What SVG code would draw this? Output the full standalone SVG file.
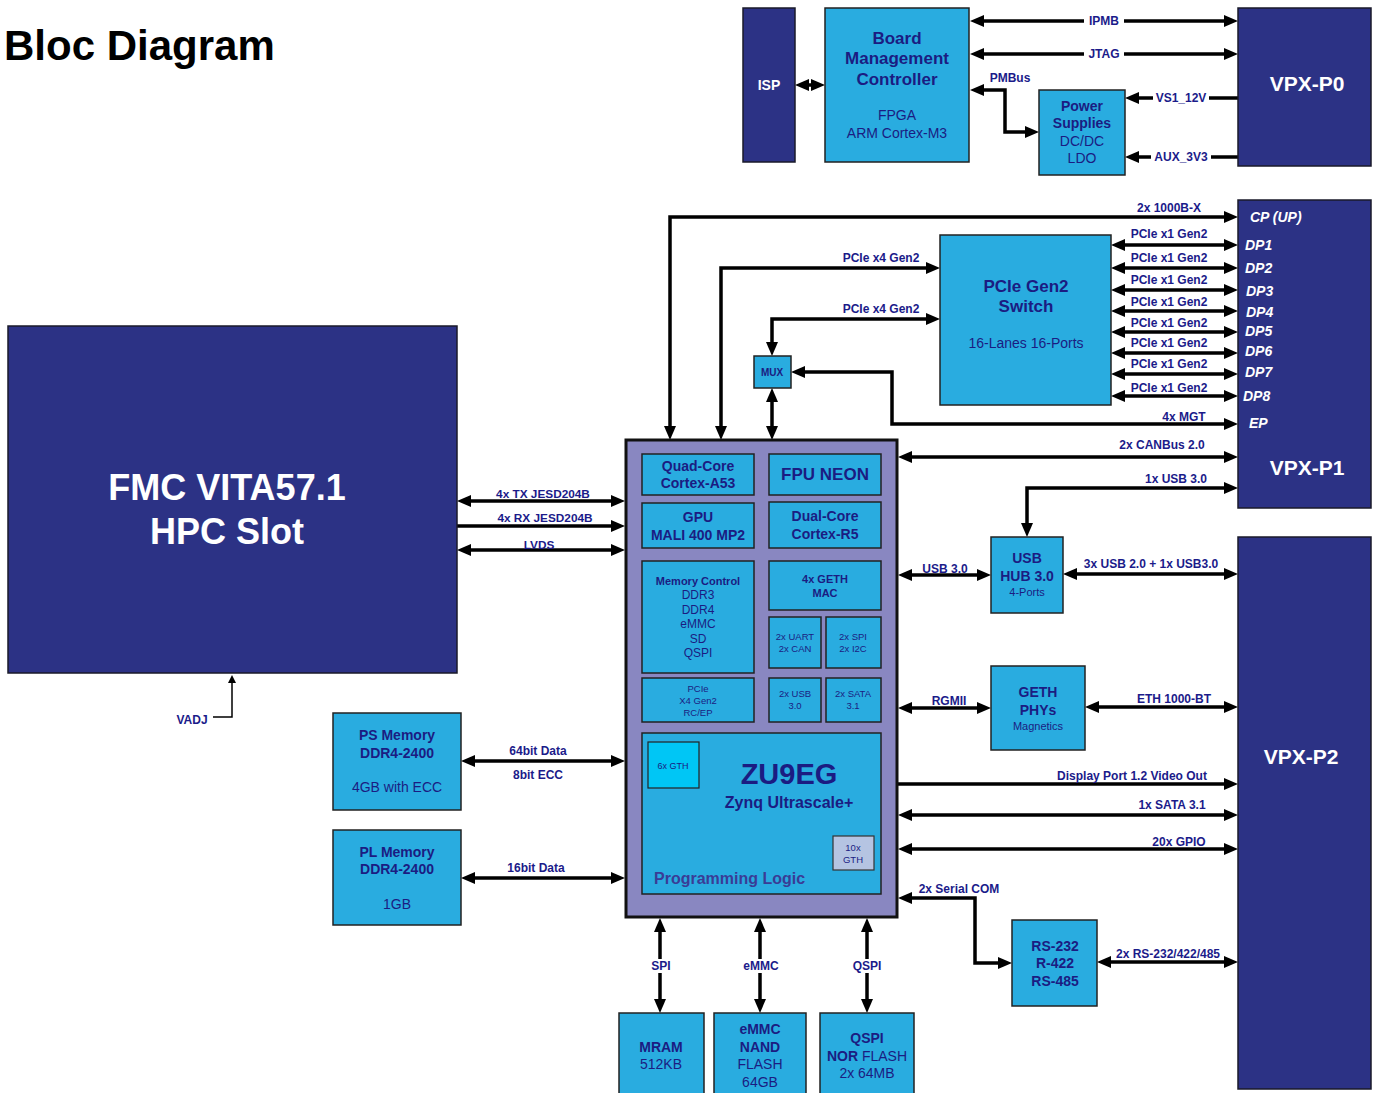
<svg xmlns="http://www.w3.org/2000/svg" width="1377" height="1093" viewBox="0 0 1377 1093">
<defs>
<style>
.dk{fill:#2C3285;stroke:#1a1a2a;stroke-width:1.5}
.lb{fill:#29ACE0;stroke:#222;stroke-width:1.5}
.zu{fill:#8987C1;stroke:#111;stroke-width:3}
.ln{stroke:#000;stroke-width:3.5;fill:none;marker-start:url(#ah);marker-end:url(#ah)}
.le{stroke:#000;stroke-width:3.5;fill:none;marker-end:url(#ah)}
text{font-family:"Liberation Sans",Arial,sans-serif;fill:#1B1C82}
.b{font-weight:bold}
.c{text-anchor:middle}
.lab{font-size:12px;font-weight:bold;text-anchor:middle;fill:#1B1B8A}
.w{fill:#fff}
.port{font-size:14px;font-weight:bold;font-style:italic;fill:#fff}
</style>
<marker id="ah" viewBox="0 0 14 12" markerWidth="14" markerHeight="12" refX="3" refY="6" orient="auto-start-reverse" markerUnits="userSpaceOnUse">
<path d="M0,0 L14,6 L0,12 z" fill="#000"/>
</marker>
<marker id="ahs" viewBox="0 0 8 8" markerWidth="8" markerHeight="8" refX="1" refY="4" orient="auto" markerUnits="userSpaceOnUse">
<path d="M0,0 L8,4 L0,8 z" fill="#000"/>
</marker>
</defs>
<rect width="1377" height="1093" fill="#fff"/>
<text x="4" y="60" style="font-size:42px;font-weight:bold;fill:#000">Bloc Diagram</text>

<g id="connectors">
<path class="ln" d="M806,85 L814,85"/>
<path class="ln" d="M981,21 L1227,21"/>
<path class="ln" d="M981,54 L1227,54"/>
<path class="ln" d="M981,90 L1005,90 L1005,132 L1028,132"/>
<path class="le" d="M1238,98 L1136,98"/>
<path class="le" d="M1238,157 L1136,157"/>
<path class="ln" d="M670,429 L670,217 L1227,217"/>
<path class="ln" d="M721,429 L721,268 L929,268"/>
<path class="ln" d="M929,319 L772,319 L772,345"/>
<path class="ln" d="M772,399 L772,429"/>
<path class="ln" d="M1227,424 L892,424 L892,372 L802,372"/>
<path class="ln" d="M1122,245 L1227,245"/>
<path class="ln" d="M1122,268 L1227,268"/>
<path class="ln" d="M1122,290 L1227,290"/>
<path class="ln" d="M1122,311 L1227,311"/>
<path class="ln" d="M1122,332 L1227,332"/>
<path class="ln" d="M1122,353 L1227,353"/>
<path class="ln" d="M1122,374 L1227,374"/>
<path class="ln" d="M1122,396 L1227,396"/>
<path class="ln" d="M468,501 L614,501"/>
<path class="le" d="M457,526 L614,526"/>
<path class="ln" d="M468,550 L614,550"/>
<path class="ln" d="M909,457 L1227,457"/>
<path class="ln" d="M1227,488 L1027,488 L1027,526"/>
<path class="ln" d="M909,575 L980,575"/>
<path class="ln" d="M1074,574 L1227,574"/>
<path class="ln" d="M909,708 L980,708"/>
<path class="ln" d="M1096,707 L1227,707"/>
<path class="le" d="M898,784 L1227,784"/>
<path class="ln" d="M909,815 L1227,815"/>
<path class="ln" d="M909,849 L1227,849"/>
<path class="ln" d="M909,898 L975,898 L975,963 L1001,963"/>
<path class="ln" d="M1108,962 L1227,962"/>
<path class="ln" d="M472,761 L614,761"/>
<path class="ln" d="M472,878 L614,878"/>
<path class="ln" d="M660,929 L660,1002"/>
<path class="ln" d="M760,929 L760,1002"/>
<path class="ln" d="M867,929 L867,1002"/>
<path d="M213,717 L232,717 L232,682" fill="none" stroke="#000" stroke-width="1.5" marker-end="url(#ahs)"/>

<rect x="1084" y="14" width="40" height="14" class="w"/>
<text class="lab" x="1104" y="25">IPMB</text>
<rect x="1084" y="47" width="40" height="14" class="w"/>
<text class="lab" x="1104" y="58">JTAG</text>
<text class="lab" x="1010" y="82">PMBus</text>
<rect x="1153" y="91" width="56" height="14" class="w"/>
<text class="lab" x="1181" y="102">VS1_12V</text>
<rect x="1151" y="150" width="60" height="14" class="w"/>
<text class="lab" x="1181" y="161">AUX_3V3</text>
<text class="lab" x="1169" y="212">2x 1000B-X</text>
<text class="lab" x="881" y="262">PCIe x4 Gen2</text>
<text class="lab" x="881" y="313">PCIe x4 Gen2</text>
<text class="lab" x="1169" y="238">PCIe x1 Gen2</text>
<text class="lab" x="1169" y="262">PCIe x1 Gen2</text>
<text class="lab" x="1169" y="284">PCIe x1 Gen2</text>
<text class="lab" x="1169" y="306">PCIe x1 Gen2</text>
<text class="lab" x="1169" y="327">PCIe x1 Gen2</text>
<text class="lab" x="1169" y="347">PCIe x1 Gen2</text>
<text class="lab" x="1169" y="368">PCIe x1 Gen2</text>
<text class="lab" x="1169" y="392">PCIe x1 Gen2</text>
<text class="lab" x="1184" y="421">4x MGT</text>
<text class="lab" x="1162" y="449">2x CANBus 2.0</text>
<text class="lab" x="1176" y="483">1x USB 3.0</text>
<text class="lab" x="945" y="573">USB 3.0</text>
<text class="lab" x="1151" y="568">3x USB 2.0 + 1x USB3.0</text>
<text class="lab" x="949" y="705">RGMII</text>
<text class="lab" x="1174" y="703">ETH 1000-BT</text>
<text class="lab" x="1132" y="780">Display Port 1.2 Video Out</text>
<text class="lab" x="1172" y="809">1x SATA 3.1</text>
<text class="lab" x="1179" y="846">20x GPIO</text>
<text class="lab" x="959" y="893">2x Serial COM</text>
<text class="lab" x="1168" y="958">2x RS-232/422/485</text>
<text class="lab" x="543" y="498" style="font-size:11.8px">4x TX JESD204B</text>
<text class="lab" x="545" y="522" style="font-size:11.8px">4x RX JESD204B</text>
<text class="lab" x="539" y="549" style="font-size:11.8px">LVDS</text>
<text class="lab" x="538" y="755">64bit Data</text>
<text class="lab" x="538" y="779">8bit ECC</text>
<text class="lab" x="536" y="872">16bit Data</text>
<rect x="646" y="959" width="30" height="14" class="w"/>
<text class="lab" x="661" y="970">SPI</text>
<rect x="740" y="959" width="42" height="14" class="w"/>
<text class="lab" x="761" y="970">eMMC</text>
<rect x="849" y="959" width="36" height="14" class="w"/>
<text class="lab" x="867" y="970">QSPI</text>
<text class="lab" x="192" y="724">VADJ</text>
</g>

<g id="isp">
<rect class="dk" x="743" y="8" width="52" height="154"/>
<text class="b c" x="769" y="90" style="font-size:14px;fill:#fff">ISP</text>
</g>
<g id="bmc">
<rect class="lb" x="825" y="8" width="144" height="154"/>
<text class="b c" x="897" y="44" style="font-size:17px">Board</text>
<text class="b c" x="897" y="64" style="font-size:17px">Management</text>
<text class="b c" x="897" y="85" style="font-size:17px">Controller</text>
<text class="c" x="897" y="120" style="font-size:14px">FPGA</text>
<text class="c" x="897" y="138" style="font-size:14px">ARM Cortex-M3</text>
</g>
<g id="power">
<rect class="lb" x="1039" y="90" width="86" height="85"/>
<text class="b c" x="1082" y="111" style="font-size:14px">Power</text>
<text class="b c" x="1082" y="128" style="font-size:14px">Supplies</text>
<text class="c" x="1082" y="146" style="font-size:14px">DC/DC</text>
<text class="c" x="1082" y="163" style="font-size:14px">LDO</text>
</g>
<g id="vpx-p0">
<rect class="dk" x="1238" y="8" width="133" height="158"/>
<text class="b c" x="1307" y="91" style="font-size:21px;fill:#fff">VPX-P0</text>
</g>
<g id="vpx-p1">
<rect class="dk" x="1238" y="200" width="133" height="308"/>
<text class="port" x="1250" y="222">CP (UP)</text>
<text class="port" x="1245" y="250">DP1</text>
<text class="port" x="1245" y="273">DP2</text>
<text class="port" x="1246" y="296">DP3</text>
<text class="port" x="1246" y="317">DP4</text>
<text class="port" x="1245" y="336">DP5</text>
<text class="port" x="1245" y="356">DP6</text>
<text class="port" x="1245" y="377">DP7</text>
<text class="port" x="1243" y="401">DP8</text>
<text class="port" x="1249" y="428">EP</text>
<text class="b c" x="1307" y="475" style="font-size:21px;fill:#fff">VPX-P1</text>
</g>
<g id="vpx-p2">
<rect class="dk" x="1238" y="537" width="133" height="552"/>
<text class="b c" x="1301" y="764" style="font-size:21px;fill:#fff">VPX-P2</text>
</g>
<g id="pcie-switch">
<rect class="lb" x="940" y="235" width="171" height="170"/>
<text class="b c" x="1026" y="292" style="font-size:17px">PCIe Gen2</text>
<text class="b c" x="1026" y="312" style="font-size:17px">Switch</text>
<text class="c" x="1026" y="348" style="font-size:14px">16-Lanes 16-Ports</text>
</g>
<g id="mux">
<rect class="lb" x="754" y="356" width="37" height="32"/>
<text class="b c" x="772" y="376" style="font-size:10px">MUX</text>
</g>
<g id="fmc">
<rect class="dk" x="8" y="326" width="449" height="347"/>
<text class="b c" x="227" y="500" style="font-size:36px;fill:#fff">FMC VITA57.1</text>
<text class="b c" x="227" y="544" style="font-size:36px;fill:#fff">HPC Slot</text>
</g>
<g id="zu9eg">
<rect class="zu" x="626" y="440" width="271" height="477"/>
<rect class="lb" x="642" y="454" width="112" height="41"/>
<text class="b c" x="698" y="471" style="font-size:14px">Quad-Core</text>
<text class="b c" x="698" y="488" style="font-size:14px">Cortex-A53</text>
<rect class="lb" x="769" y="454" width="112" height="41"/>
<text class="b c" x="825" y="480" style="font-size:17px">FPU NEON</text>
<rect class="lb" x="642" y="503" width="112" height="45"/>
<text class="b c" x="698" y="522" style="font-size:14px">GPU</text>
<text class="b c" x="698" y="540" style="font-size:14px">MALI 400 MP2</text>
<rect class="lb" x="769" y="502" width="112" height="46"/>
<text class="b c" x="825" y="521" style="font-size:14px">Dual-Core</text>
<text class="b c" x="825" y="539" style="font-size:14px">Cortex-R5</text>
<rect class="lb" x="642" y="561" width="112" height="112"/>
<text class="b c" x="698" y="585" style="font-size:11px">Memory Control</text>
<text class="c" x="698" y="599" style="font-size:12px">DDR3</text>
<text class="c" x="698" y="614" style="font-size:12px">DDR4</text>
<text class="c" x="698" y="628" style="font-size:12px">eMMC</text>
<text class="c" x="698" y="643" style="font-size:12px">SD</text>
<text class="c" x="698" y="657" style="font-size:12px">QSPI</text>
<rect class="lb" x="769" y="561" width="112" height="49"/>
<text class="b c" x="825" y="583" style="font-size:11px">4x GETH</text>
<text class="b c" x="825" y="597" style="font-size:11px">MAC</text>
<rect class="lb" x="769" y="617" width="52" height="51"/>
<text class="c" x="795" y="640" style="font-size:9.5px">2x UART</text>
<text class="c" x="795" y="652" style="font-size:9.5px">2x CAN</text>
<rect class="lb" x="826" y="617" width="55" height="51"/>
<text class="c" x="853" y="640" style="font-size:9.5px">2x SPI</text>
<text class="c" x="853" y="652" style="font-size:9.5px">2x I2C</text>
<rect class="lb" x="642" y="678" width="112" height="44"/>
<text class="c" x="698" y="692" style="font-size:9.5px">PCIe</text>
<text class="c" x="698" y="704" style="font-size:9.5px">X4 Gen2</text>
<text class="c" x="698" y="716" style="font-size:9.5px">RC/EP</text>
<rect class="lb" x="769" y="678" width="52" height="44"/>
<text class="c" x="795" y="697" style="font-size:9.5px">2x USB</text>
<text class="c" x="795" y="709" style="font-size:9.5px">3.0</text>
<rect class="lb" x="826" y="678" width="55" height="44"/>
<text class="c" x="853" y="697" style="font-size:9.5px">2x SATA</text>
<text class="c" x="853" y="709" style="font-size:9.5px">3.1</text>
<rect class="lb" x="642" y="733" width="239" height="161"/>
<rect x="648" y="742" width="51" height="46" fill="#00C6F5" stroke="#222" stroke-width="1.2"/>
<text class="c" x="673" y="769" style="font-size:9px">6x GTH</text>
<text class="b c" x="789" y="784" style="font-size:29px">ZU9EG</text>
<text class="b c" x="789" y="808" style="font-size:16px">Zynq Ultrascale+</text>
<rect x="833" y="836" width="41" height="34" fill="#B5C4E2" stroke="#333" stroke-width="1.2"/>
<text class="c" x="853" y="851" style="font-size:9.5px">10x</text>
<text class="c" x="853" y="863" style="font-size:9.5px">GTH</text>
<text class="b" x="654" y="884" style="font-size:16px;fill:#3A3C96">Programming Logic</text>
</g>
<g id="usb-hub">
<rect class="lb" x="991" y="537" width="72" height="76"/>
<text class="b c" x="1027" y="563" style="font-size:14px">USB</text>
<text class="b c" x="1027" y="581" style="font-size:14px">HUB 3.0</text>
<text class="c" x="1027" y="596" style="font-size:11px">4-Ports</text>
</g>
<g id="geth-phys">
<rect class="lb" x="991" y="666" width="94" height="84"/>
<text class="b c" x="1038" y="697" style="font-size:14px">GETH</text>
<text class="b c" x="1038" y="715" style="font-size:14px">PHYs</text>
<text class="c" x="1038" y="730" style="font-size:11px">Magnetics</text>
</g>
<g id="rs232">
<rect class="lb" x="1012" y="920" width="85" height="86"/>
<text class="b c" x="1055" y="951" style="font-size:14px">RS-232</text>
<text class="b c" x="1055" y="968" style="font-size:14px">R-422</text>
<text class="b c" x="1055" y="986" style="font-size:14px">RS-485</text>
</g>
<g id="ps-memory">
<rect class="lb" x="333" y="713" width="128" height="97"/>
<text class="b c" x="397" y="740" style="font-size:14px">PS Memory</text>
<text class="b c" x="397" y="758" style="font-size:14px">DDR4-2400</text>
<text class="c" x="397" y="792" style="font-size:14px">4GB with ECC</text>
</g>
<g id="pl-memory">
<rect class="lb" x="333" y="830" width="128" height="95"/>
<text class="b c" x="397" y="857" style="font-size:14px">PL Memory</text>
<text class="b c" x="397" y="874" style="font-size:14px">DDR4-2400</text>
<text class="c" x="397" y="909" style="font-size:14px">1GB</text>
</g>
<g id="mram">
<rect class="lb" x="619" y="1013" width="85" height="85"/>
<text class="b c" x="661" y="1052" style="font-size:14px">MRAM</text>
<text class="c" x="661" y="1069" style="font-size:14px">512KB</text>
</g>
<g id="emmc">
<rect class="lb" x="714" y="1013" width="92" height="85"/>
<text class="b c" x="760" y="1034" style="font-size:14px">eMMC</text>
<text class="b c" x="760" y="1052" style="font-size:14px">NAND</text>
<text class="c" x="760" y="1069" style="font-size:14px">FLASH</text>
<text class="c" x="760" y="1087" style="font-size:14px">64GB</text>
</g>
<g id="qspi">
<rect class="lb" x="820" y="1013" width="94" height="85"/>
<text class="b c" x="867" y="1043" style="font-size:14px">QSPI</text>
<text class="c" x="867" y="1061" style="font-size:14px"><tspan font-weight="bold">NOR</tspan> FLASH</text>
<text class="c" x="867" y="1078" style="font-size:14px">2x 64MB</text>
</g>
</svg>
